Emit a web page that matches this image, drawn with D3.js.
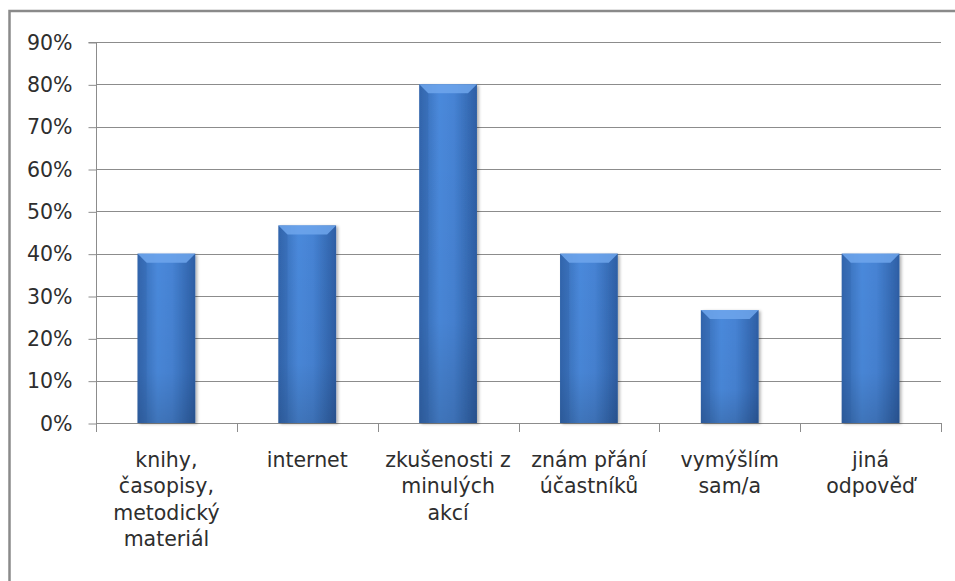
<!DOCTYPE html>
<html>
<head>
<meta charset="utf-8">
<script src="https://cdn.jsdelivr.net/npm/d3@7"></script>
<style>
  html, body { margin: 0; padding: 0; background: #fff; overflow: hidden; }
  svg { display: block; }
  svg text { font-family: "DejaVu Sans", "Open Sans", sans-serif; fill: #2e2e2e; }
</style>
</head>
<body>
<div id="chart"></div>
<script>
// categories (line breaks as in the original chart)
var categories = [
  "knihy,\nčasopisy,\nmetodický\nmateriál",
  "internet",
  "zkušenosti z\nminulých\nakcí",
  "znám přání\núčastníků",
  "vymýšlím\nsam/a",
  "jiná\nodpověď"
];
// share of answers
var values = [0.40, 0.4667, 0.80, 0.40, 0.2667, 0.40];
var yTicks = [0, 0.1, 0.2, 0.3, 0.4, 0.5, 0.6, 0.7, 0.8, 0.9];

var width = 955, height = 581;
var plotLeft = 96, plotRight = 941, plotTop = 42, plotBottom = 423;
var fontSize = 20.5;

var svg = d3.select("#chart")
  .append("svg")
  .attr("width", width)
  .attr("height", height);

// gradients for the bars
var defs = svg.append("defs");
var grad = defs.append("linearGradient")
  .attr("id", "barGrad")
  .attr("x1", "0%").attr("x2", "100%").attr("y1", "0%").attr("y2", "0%");
grad.append("stop").attr("offset", "0%").attr("stop-color", "#3468b0");
grad.append("stop").attr("offset", "35%").attr("stop-color", "#4a89db");
grad.append("stop").attr("offset", "60%").attr("stop-color", "#4683d4");
grad.append("stop").attr("offset", "100%").attr("stop-color", "#2d5ea4");

var shade = defs.append("linearGradient")
  .attr("id", "barShade")
  .attr("x1", "0%").attr("x2", "0%").attr("y1", "0%").attr("y2", "100%");
shade.append("stop").attr("offset", "0%").attr("stop-color", "#000").attr("stop-opacity", 0);
shade.append("stop").attr("offset", "70%").attr("stop-color", "#000").attr("stop-opacity", 0.03);
shade.append("stop").attr("offset", "100%").attr("stop-color", "#000").attr("stop-opacity", 0.15);

var filt = defs.append("filter").attr("id", "shadow")
  .attr("x", "-20%").attr("y", "-10%").attr("width", "150%").attr("height", "130%");
filt.append("feDropShadow")
  .attr("dx", 2).attr("dy", 1).attr("stdDeviation", 1.5)
  .attr("flood-color", "#000").attr("flood-opacity", 0.3);

// outer border (runs off the right and bottom of the picture)
svg.append("rect")
  .attr("x", 9.5).attr("y", 11)
  .attr("width", width + 10).attr("height", height + 10)
  .attr("fill", "none")
  .attr("stroke", "#8a8a8a")
  .attr("stroke-width", 2.5);

var x = d3.scaleBand()
  .domain(categories)
  .range([plotLeft, plotRight])
  .paddingInner(0.59)
  .paddingOuter(0.295);

var yScale = d3.scaleLinear()
  .domain([0, 0.9])
  .range([plotBottom, plotTop]);

// grid lines
svg.append("g")
  .selectAll("line")
  .data(yTicks.slice(1))
  .enter()
  .append("line")
  .attr("x1", plotLeft)
  .attr("x2", plotRight)
  .attr("y1", function(d) { return Math.round(yScale(d)) + 0.5; })
  .attr("y2", function(d) { return Math.round(yScale(d)) + 0.5; })
  .attr("stroke", "#8c8c8c")
  .attr("stroke-width", 1);

// y axis
var yAxis = d3.axisLeft(yScale)
  .tickValues(yTicks)
  .tickSize(8)
  .tickPadding(16)
  .tickFormat(d3.format(".0%"));

var yG = svg.append("g")
  .attr("transform", "translate(" + (plotLeft + 0.5) + ",0.5)")
  .call(yAxis);
yG.selectAll("path, line").attr("stroke", "#8c8c8c");
yG.select(".domain").attr("d", "M-8," + (plotTop) + "H0V" + (plotBottom));
yG.selectAll("text")
  .attr("font-size", fontSize)
  .style("font-family", "'DejaVu Sans', 'Open Sans', sans-serif")
  .attr("fill", "#2e2e2e");

// x axis line and ticks between categories
var xG = svg.append("g");
xG.append("line")
  .attr("x1", plotLeft).attr("x2", plotRight)
  .attr("y1", plotBottom + 0.5).attr("y2", plotBottom + 0.5)
  .attr("stroke", "#8c8c8c");
var step = x.step();
var bounds = d3.range(categories.length + 1).map(function(i) { return plotLeft + i * step; });
xG.selectAll(".xt")
  .data(bounds)
  .enter()
  .append("line")
  .attr("class", "xt")
  .attr("x1", function(d) { return Math.round(d) + 0.5; })
  .attr("x2", function(d) { return Math.round(d) + 0.5; })
  .attr("y1", plotBottom)
  .attr("y2", plotBottom + 9)
  .attr("stroke", "#8c8c8c");

// category labels
var labels = xG.selectAll(".lab")
  .data(categories)
  .enter()
  .append("text")
  .attr("class", "lab")
  .attr("text-anchor", "middle")
  .attr("font-size", fontSize)
  .attr("x", function(d) { return x(d) + x.bandwidth() / 2; })
  .attr("y", plotBottom + 44);
labels.each(function(d) {
  var t = d3.select(this);
  d.split("\n").forEach(function(line, i) {
    t.append("tspan")
      .attr("x", x(d) + x.bandwidth() / 2)
      .attr("dy", i === 0 ? 0 : 26.3)
      .text(line);
  });
});

// bars
var bars = svg.append("g").selectAll("g.bar")
  .data(values)
  .enter()
  .append("g")
  .attr("class", "bar");

bars.append("rect")
  .attr("x", function(d, i) { return x(categories[i]); })
  .attr("y", function(d) { return yScale(d); })
  .attr("width", x.bandwidth())
  .attr("height", function(d) { return plotBottom - yScale(d); })
  .attr("fill", "url(#barGrad)")
  .attr("filter", "url(#shadow)");

bars.append("rect")
  .attr("x", function(d, i) { return x(categories[i]); })
  .attr("y", function(d) { return yScale(d); })
  .attr("width", x.bandwidth())
  .attr("height", function(d) { return plotBottom - yScale(d); })
  .attr("fill", "url(#barShade)");

// light bevel at the top of each bar
var bev = 9;
bars.append("path")
  .attr("d", function(d, i) {
    var x0 = x(categories[i]), x1 = x0 + x.bandwidth(), y0 = yScale(d);
    return "M" + x0 + "," + y0 + "L" + x1 + "," + y0 +
      "L" + (x1 - bev) + "," + (y0 + bev) + "L" + (x0 + bev) + "," + (y0 + bev) + "Z";
  })
  .attr("fill", "#6ea6ec")
  .attr("opacity", 0.85);
bars.append("path")
  .attr("d", function(d, i) {
    var x0 = x(categories[i]), y0 = yScale(d), h = plotBottom - y0;
    return "M" + x0 + "," + y0 + "L" + (x0 + bev) + "," + (y0 + bev) +
      "L" + (x0 + bev) + "," + (y0 + h) + "L" + x0 + "," + (y0 + h) + "Z";
  })
  .attr("fill", "#2c5da0")
  .attr("opacity", 0.25);
</script>
</body>
</html>
